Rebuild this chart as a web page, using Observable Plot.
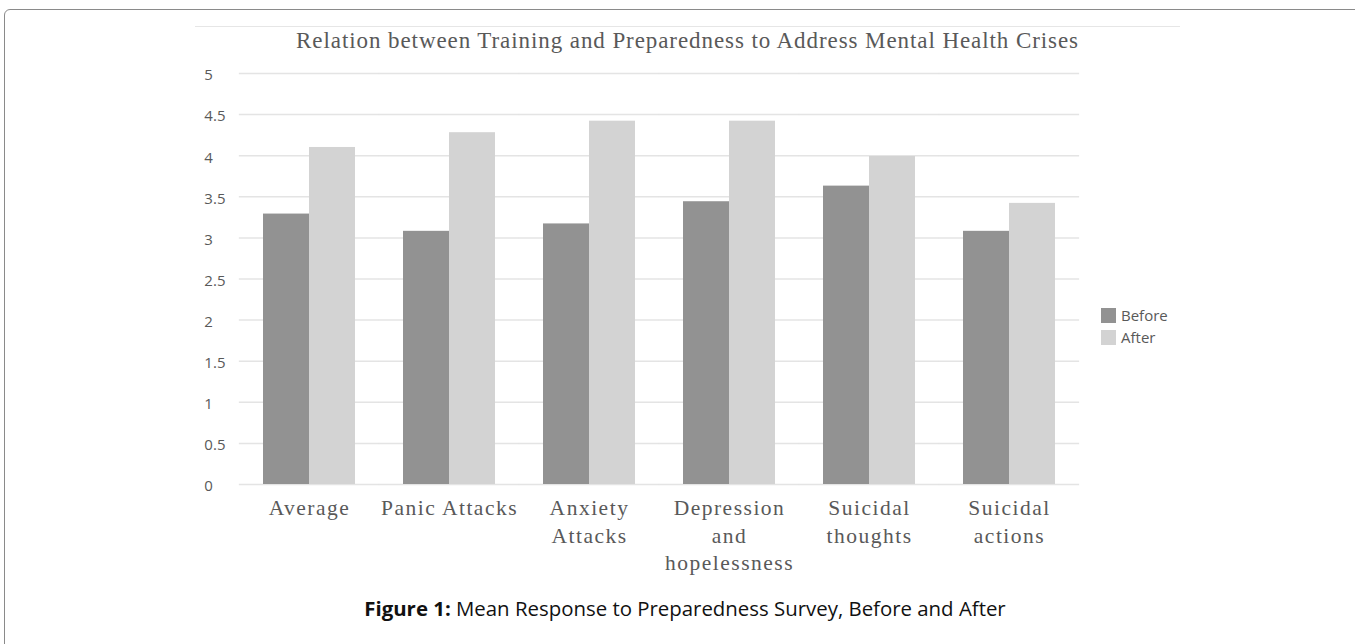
<!DOCTYPE html>
<html><head><meta charset="utf-8">
<script src="https://cdn.jsdelivr.net/npm/d3@7"></script>
<script src="https://cdn.jsdelivr.net/npm/@observablehq/plot@0.6"></script>
<style>
html,body{margin:0;padding:0;background:#fff;}
body{width:1355px;height:644px;overflow:hidden;position:relative;}
#frame{position:absolute;left:4px;top:9px;width:1420px;height:700px;border:1.5px solid #8a8a8a;border-radius:6px;}
#topline{position:absolute;left:195px;top:26px;width:985px;height:1px;background:#e6e6e6;}
#title{position:absolute;left:195px;top:29px;width:985px;text-align:center;font-family:"Liberation Serif",serif;font-size:23px;letter-spacing:0.92px;line-height:23px;color:#595959;white-space:nowrap;}
#chart{position:absolute;left:0;top:0;}
#legend{position:absolute;left:1101px;top:304px;font-family:"Open Sans",sans-serif;font-size:15px;color:#595959;}
#legend .item{display:flex;align-items:center;height:22px;}
#legend .sw{width:15px;height:15px;margin-right:5px;}
#caption{position:absolute;left:0;top:594px;width:1370px;text-align:center;font-family:"Open Sans",sans-serif;font-size:20.4px;color:#111;white-space:nowrap;}
#chart g[aria-label="fx-axis tick label"] text{letter-spacing:1.5px;}
</style></head><body>
<div id="frame"></div>
<div id="topline"></div>
<div id="title">Relation between Training and Preparedness to Address Mental Health Crises</div>
<div id="chart"></div>
<div id="legend"></div>
<div id="caption"><b>Figure 1:</b> Mean Response to Preparedness Survey, Before and After</div>
<script>
const categories = ["Average", "Panic Attacks", "Anxiety Attacks", "Depression and hopelessness", "Suicidal thoughts", "Suicidal actions"];
const tickLabels = ["Average", "Panic Attacks", "Anxiety\nAttacks", "Depression\nand\nhopelessness", "Suicidal\nthoughts", "Suicidal\nactions"];
const series = ["Before", "After"];
const before = [3.29, 3.08, 3.17, 3.44, 3.63, 3.08];
const after = [4.10, 4.28, 4.42, 4.42, 3.99, 3.42];
const yTicks = [0, 0.5, 1, 1.5, 2, 2.5, 3, 3.5, 4, 4.5, 5];
const colors = ["#929292", "#d3d3d3"];

const data = categories.flatMap((c, i) => [
  {cat: c, series: series[0], value: before[i]},
  {cat: c, series: series[1], value: after[i]}
]);

const W = 1355, H = 600, mL = 238, mR = 275, mT = 73, mB = 116;
const pad = 0.344;
const step = (W - mL - mR) / categories.length;
const gapHalf = step * pad / 2;

const chart = Plot.plot({
  width: W, height: H,
  marginLeft: mL, marginRight: mR, marginTop: mT, marginBottom: mB,
  style: {background: "transparent", overflow: "visible", color: "#595959"},
  fx: {domain: categories, paddingInner: pad, paddingOuter: pad / 2, label: null},
  x: {domain: series, padding: 0, axis: null},
  y: {domain: [0, 5]},
  color: {domain: series, range: colors},
  marks: [
    Plot.ruleY(yTicks, {stroke: "#e4e4e4", strokeWidth: 1.5, insetLeft: -gapHalf, insetRight: -gapHalf}),
    Plot.barY(data, {fx: "cat", x: "series", y: "value", fill: "series"}),
    Plot.axisY(yTicks, {anchor: "left", tickSize: 0, tickPadding: mL + gapHalf - 203, textAnchor: "start", dy: 2,
      fontSize: 15, fontFamily: "Open Sans, sans-serif", fill: "#595959", label: null, tickFormat: d => String(d)}),
    Plot.axisFx({anchor: "bottom", tickSize: 0, tickPadding: 11, label: null,
      tickFormat: d => tickLabels[categories.indexOf(d)], lineHeight: 1.28,
      fontSize: 21.5, fontFamily: "Liberation Serif, serif", fill: "#595959"})
  ]
});
document.getElementById("chart").appendChild(chart);

const legend = document.getElementById("legend");
series.forEach((s, i) => {
  const item = document.createElement("div");
  item.className = "item";
  const sw = document.createElement("div");
  sw.className = "sw";
  sw.style.background = colors[i];
  const t = document.createElement("span");
  t.textContent = s;
  item.appendChild(sw);
  item.appendChild(t);
  legend.appendChild(item);
});
</script>
</body></html>
